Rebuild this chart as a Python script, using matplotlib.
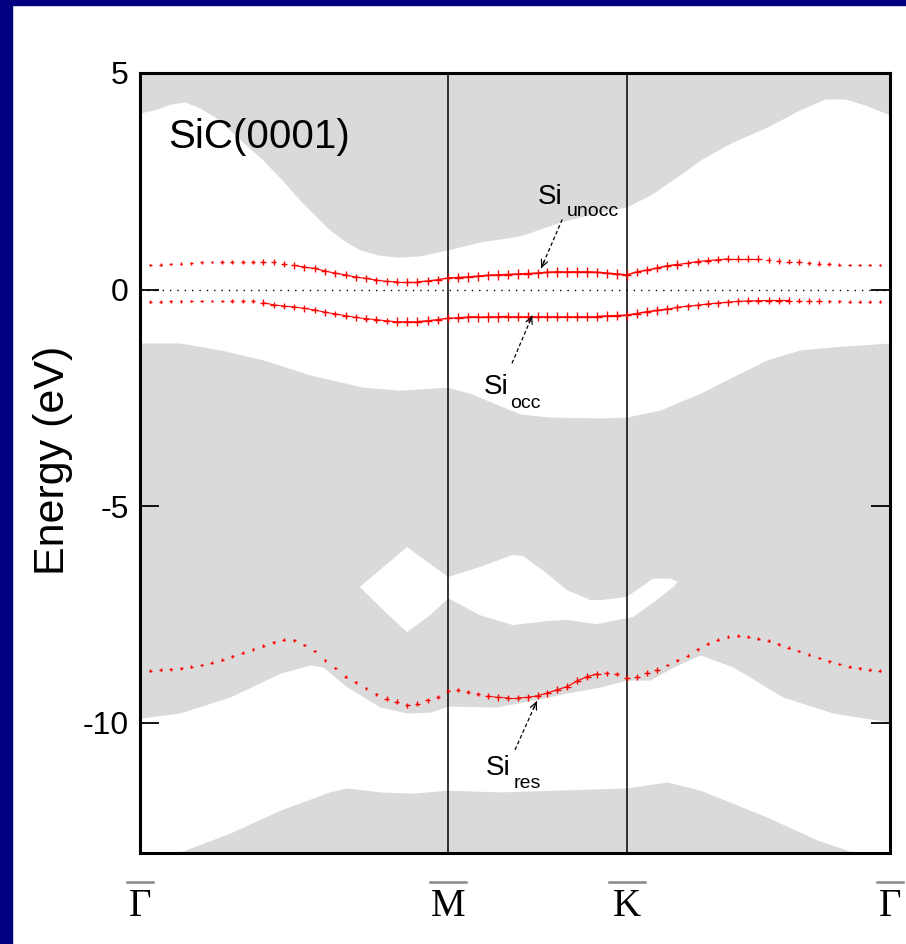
import numpy as np
import matplotlib
matplotlib.use("Agg")
import matplotlib.pyplot as plt
from matplotlib.lines import Line2D
from matplotlib.patches import Rectangle
from matplotlib.collections import LineCollection

plt.rcParams['font.family'] = ['Liberation Sans', 'DejaVu Sans']

# ---- k-path (high-symmetry points along the horizontal axis) ----
kpt_labels = ["Γ", "M", "K", "Γ"]
kpt_pos = [0.0, 0.411, 0.649, 1.0]

# k grid of the slab calculation (30 / 18 / 26 steps per segment)
k_gm = np.linspace(kpt_pos[0], kpt_pos[1], 31)
k_mk = np.linspace(kpt_pos[1], kpt_pos[2], 19)[1:]
k_kg = np.linspace(kpt_pos[2], kpt_pos[3], 27)[1:]
kgrid = np.concatenate([k_gm, k_mk, k_kg])

# ---- surface bands (eV) ----
e_unocc = [0.57, 0.57, 0.58, 0.59, 0.60, 0.61, 0.63, 0.64, 0.64, 0.64, 0.64, 0.64, 0.64, 0.63, 0.59, 0.56,
           0.52, 0.49, 0.43, 0.38, 0.34, 0.29, 0.26, 0.22, 0.19, 0.18, 0.18, 0.18, 0.20, 0.23, 0.27,
           0.28, 0.29, 0.31, 0.33, 0.34, 0.35, 0.36, 0.37, 0.38, 0.40, 0.41, 0.41, 0.41, 0.41, 0.40, 0.38,
           0.36, 0.34,
           0.41, 0.45, 0.50, 0.55, 0.58, 0.61, 0.65, 0.67, 0.69, 0.71, 0.71, 0.71, 0.71, 0.69, 0.67, 0.65,
           0.63, 0.61, 0.60, 0.59, 0.58, 0.57, 0.57, 0.57, 0.57, 0.57]
w_unocc = [0.1, 0.1, 0.1, 0.1, 0.1, 0.1, 0.1, 0.1, 0.25, 0.25, 0.25, 0.25, 0.45, 0.45, 0.45, 0.6,
           0.6, 0.6, 0.6, 0.6, 0.6, 0.6, 0.6, 0.6, 0.6, 0.6, 0.7, 0.7, 0.7, 0.7, 0.7,
           0.85, 0.85, 0.85, 0.85, 0.85, 0.85, 0.85, 0.85, 0.85, 0.85, 0.85, 0.85, 0.85, 0.85, 0.85, 0.85,
           0.85, 0.85,
           0.75, 0.75, 0.75, 0.75, 0.75, 0.6, 0.6, 0.6, 0.6, 0.6, 0.6, 0.6, 0.6, 0.45, 0.45, 0.45,
           0.45, 0.3, 0.3, 0.3, 0.1, 0.1, 0.1, 0.1, 0.1, 0.1]

e_occ = [-0.28, -0.28, -0.28, -0.27, -0.27, -0.26, -0.26, -0.26, -0.26, -0.26, -0.26, -0.27, -0.30,
         -0.35, -0.38, -0.40, -0.43, -0.47, -0.52, -0.56, -0.60, -0.64, -0.67, -0.69, -0.72, -0.74,
         -0.74, -0.74, -0.72, -0.69, -0.66,
         -0.65, -0.64, -0.64, -0.63, -0.63, -0.62, -0.62, -0.62, -0.62, -0.62, -0.62, -0.62, -0.62,
         -0.62, -0.62, -0.61, -0.60, -0.59,
         -0.55, -0.51, -0.48, -0.45, -0.41, -0.38, -0.36, -0.33, -0.31, -0.29, -0.27, -0.26, -0.255,
         -0.25, -0.25, -0.25, -0.25, -0.26, -0.26, -0.27, -0.27, -0.28, -0.28, -0.28, -0.28, -0.28]
w_occ = [0.1, 0.1, 0.1, 0.1, 0.1, 0.1, 0.1, 0.1, 0.1, 0.25, 0.25, 0.25, 0.55, 0.55, 0.55, 0.55,
         0.55, 0.55, 0.55, 0.55, 0.55, 0.55, 0.55, 0.55, 0.55, 0.8, 0.8, 0.8, 0.8, 0.7, 0.7,
         0.85, 0.85, 0.85, 0.85, 0.85, 0.85, 0.85, 0.85, 0.85, 0.85, 0.85, 0.85, 0.85, 0.85, 0.85, 0.85,
         0.85, 0.85,
         0.8, 0.8, 0.8, 0.8, 0.6, 0.6, 0.6, 0.6, 0.6, 0.6, 0.6, 0.6, 0.6, 0.6, 0.6, 0.6,
         0.4, 0.4, 0.4, 0.1, 0.1, 0.1, 0.1, 0.1, 0.1, 0.1]

e_res = [-8.79, -8.79, -8.77, -8.76, -8.74, -8.70, -8.66, -8.61, -8.54, -8.46, -8.38, -8.30, -8.22,
         -8.14, -8.08, -8.09, -8.20, -8.34, -8.55, -8.73, -8.93, -9.06, -9.20, -9.34, -9.44, -9.51,
         -9.59, -9.56, -9.48, -9.40, -9.25,
         -9.24, -9.29, -9.33, -9.38, -9.41, -9.42, -9.42, -9.41, -9.37, -9.31, -9.23, -9.16, -9.03,
         -8.93, -8.87, -8.85, -8.87, -8.97,
         -8.93, -8.85, -8.78, -8.66, -8.55, -8.45, -8.30, -8.17, -8.08, -8.01, -7.99, -8.01, -8.05,
         -8.10, -8.18, -8.26, -8.34, -8.42, -8.50, -8.58, -8.64, -8.70, -8.74, -8.77, -8.79, -8.79]
w_res = [0.12, 0.12, 0.12, 0.12, 0.12, 0.12, 0.12, 0.12, 0.12, 0.12, 0.12, 0.12, 0.12, 0.12, 0.12,
         0.12, 0.12, 0.12, 0.12, 0.12, 0.12, 0.12, 0.12, 0.12, 0.35, 0.35, 0.35, 0.35, 0.35, 0.25, 0.25,
         0.3, 0.3, 0.3, 0.5, 0.5, 0.5, 0.5, 0.5, 0.6, 0.6, 0.6, 0.6, 0.6, 0.6, 0.6, 0.35, 0.35, 0.5,
         0.45, 0.45, 0.45, 0.12, 0.12, 0.12, 0.12, 0.12, 0.12, 0.12, 0.12, 0.12, 0.12, 0.12, 0.12,
         0.12, 0.12, 0.12, 0.12, 0.12, 0.12, 0.12, 0.12, 0.12, 0.12, 0.12]

# ---- edges of the projected bulk bands (k, eV) ----
gap1_top_k = [0.0, 0.02, 0.04, 0.06, 0.08, 0.10, 0.12, 0.14, 0.164, 0.19, 0.213, 0.233, 0.253, 0.273,
              0.293, 0.318, 0.343, 0.373, 0.411, 0.453, 0.507, 0.56, 0.613, 0.649, 0.68, 0.72, 0.747,
              0.787, 0.836, 0.88, 0.913, 0.94, 0.967, 1.0]
gap1_top_e = [4.08, 4.15, 4.28, 4.33, 4.19, 3.98, 3.68, 3.36, 2.99, 2.52, 2.07, 1.72, 1.38, 1.12,
              0.92, 0.80, 0.75, 0.78, 0.92, 1.10, 1.24, 1.56, 1.79, 1.91, 2.18, 2.65, 2.99,
              3.38, 3.75, 4.15, 4.40, 4.40, 4.26, 4.03]
gap1_bot_k = [0.0, 0.053, 0.107, 0.164, 0.227, 0.297, 0.347, 0.409, 0.44, 0.476, 0.507, 0.547, 0.613,
              0.649, 0.693, 0.747, 0.787, 0.836, 0.88, 0.924, 1.0]
gap1_bot_e = [-1.23, -1.23, -1.39, -1.62, -1.97, -2.25, -2.32, -2.25, -2.39, -2.65, -2.87, -2.94, -2.96,
              -2.94, -2.78, -2.39, -2.04, -1.62, -1.39, -1.32, -1.23]

pocket_k = [0.293, 0.356, 0.411, 0.453, 0.497, 0.511, 0.542, 0.569, 0.6, 0.617, 0.649, 0.684, 0.707,
            0.717, 0.711, 0.689, 0.657, 0.649, 0.609, 0.569, 0.542, 0.497, 0.453, 0.411, 0.387, 0.356,
            0.327]
pocket_e = [-6.86, -5.94, -6.63, -6.40, -6.12, -6.15, -6.54, -6.93, -7.16, -7.16, -7.09, -6.67, -6.67,
            -6.74, -6.86, -7.16, -7.56, -7.58, -7.72, -7.62, -7.65, -7.74, -7.51, -7.12, -7.51, -7.90,
            -7.44]

gap2_top_k = [0.0, 0.053, 0.12, 0.187, 0.227, 0.244, 0.276, 0.32, 0.356, 0.387, 0.411, 0.476, 0.524,
              0.569, 0.613, 0.649, 0.68, 0.711, 0.747, 0.791, 0.857, 0.924, 1.0]
gap2_top_e = [-9.89, -9.77, -9.40, -8.85, -8.66, -8.71, -9.17, -9.63, -9.77, -9.75, -9.61, -9.63, -9.47,
              -9.31, -9.17, -9.01, -9.01, -8.71, -8.43, -8.71, -9.40, -9.77, -9.98]
gap2_bot_k = [0.0, 0.053, 0.12, 0.187, 0.253, 0.276, 0.32, 0.364, 0.409, 0.48, 0.649, 0.703, 0.747,
              0.836, 0.903, 0.947, 1.0]
gap2_bot_e = [-13.0, -12.98, -12.54, -12.01, -11.59, -11.50, -11.59, -11.62, -11.55, -11.59, -11.50,
              -11.36, -11.55, -12.17, -12.70, -12.96, -13.0]

GRAY = "#dadada"
NAVY = "#000080"

fig = plt.figure(figsize=(9.06, 9.44), dpi=100, facecolor="white")
fig.patches.append(Rectangle((0, 0), 12 / 906, 1, transform=fig.transFigure, color=NAVY, zorder=0))
fig.patches.append(Rectangle((0, 1 - 5 / 944), 1, 5 / 944, transform=fig.transFigure, color=NAVY, zorder=0))

ax = fig.add_axes([140 / 906, 91 / 944, 750 / 906, 780 / 944])
ax.set_facecolor(GRAY)
ax.set_xlim(0, 1)
ax.set_ylim(-13, 5)

# gaps of the projected bulk band structure
kk = np.linspace(0, 1, 601)
ax.fill_between(kk, np.interp(kk, gap1_bot_k, gap1_bot_e), np.interp(kk, gap1_top_k, gap1_top_e),
                color="white", lw=0, zorder=1)
ax.fill_between(kk, np.interp(kk, gap2_bot_k, gap2_bot_e), np.interp(kk, gap2_top_k, gap2_top_e),
                color="white", lw=0, zorder=1)
ax.fill(pocket_k, pocket_e, color="white", lw=0, zorder=1)

# Fermi level and high-symmetry lines
ax.axhline(0, color="black", lw=1.0, ls=(0, (1, 4.3)), zorder=2)
for xv in kpt_pos[1:3]:
    ax.axvline(xv, color="black", lw=1.1, zorder=2)

# surface states, marker size ~ surface weight
for e, w in ((e_unocc, w_unocc), (e_occ, w_occ), (e_res, w_res)):
    e = np.asarray(e)
    w = np.asarray(w)
    pts = np.column_stack([kgrid, e])
    segs = np.stack([pts[:-1], pts[1:]], axis=1)
    wseg = np.minimum(w[:-1], w[1:])
    lws = np.where(wseg >= 0.5, 1.4 * wseg, 0.0)
    ax.add_collection(LineCollection(segs, linewidths=lws, colors="red", zorder=3))
    ax.scatter(kgrid, e, s=(1.3 + 6.3 * w) ** 2, marker="+", color="red", linewidths=1.0, zorder=3)

# labels of the surface states
def state_label(x, y, sub, xs, ys):
    ax.text(x, y, "Si", fontsize=20, ha="left", va="baseline", zorder=5)
    ax.text(xs, ys, sub, fontsize=14, ha="left", va="baseline", zorder=5)

state_label(0.531, 1.98, "unocc", 0.569, 1.70)
state_label(0.458, -2.40, "occ", 0.494, -2.72)
state_label(0.461, -11.20, "res", 0.498, -11.50)

arrows = [((0.563, 1.62), (0.535, 0.50)),
          ((0.496, -1.70), (0.523, -0.60)),
          ((0.500, -10.62), (0.529, -9.50))]
for (x0, y0), (x1, y1) in arrows:
    ax.plot([x0, x1], [y0, y1], color="black", lw=0.9, ls=(0, (3, 2)), zorder=4)
    ax.annotate("", xy=(x1, y1), xytext=(x1 + (x0 - x1) * 0.15, y1 + (y0 - y1) * 0.15),
                arrowprops=dict(arrowstyle="->", color="black", lw=0.9,
                                mutation_scale=12, shrinkA=0, shrinkB=0), zorder=4)

ax.text(0.037, 3.28, "SiC(0001)", fontsize=29, ha="left", va="baseline", zorder=5)

# axes styling
for sp in ax.spines.values():
    sp.set_linewidth(2.2)
    sp.set_zorder(6)
ax.set_yticks([5, 0, -5, -10])
ax.set_yticklabels(["5", "0", "-5", "-10"])
ax.tick_params(axis="y", direction="in", length=14, width=1.3, labelsize=23, pad=8,
               left=True, right=True)
ax.set_xticks([])
ax.set_ylabel("Energy (eV)", fontsize=31)
ax.yaxis.set_label_coords(-0.089, 0.503)

# high-symmetry point labels with overbars
for lab, xv in zip(kpt_labels, kpt_pos):
    ax.text(xv, -0.068, lab, transform=ax.get_xaxis_transform(), ha="center", va="center",
            fontsize=28, family=["Liberation Serif", "DejaVu Serif"], clip_on=False)
    bar_half = 0.017 if lab == "Γ" else 0.024
    ax.add_line(Line2D([xv - bar_half, xv + bar_half], [-0.037, -0.037], color="#888888", lw=1.8,
                       transform=ax.get_xaxis_transform(), clip_on=False))

fig.savefig("out.png", dpi=100, facecolor="white")
